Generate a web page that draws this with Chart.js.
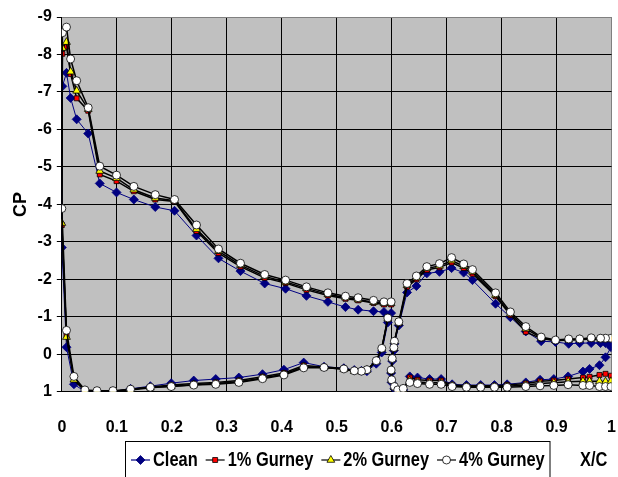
<!DOCTYPE html>
<html>
<head>
<meta charset="utf-8">
<script src="https://cdn.jsdelivr.net/npm/chart.js@4.4.1/dist/chart.umd.min.js"></script>
<style>
  html, body { margin: 0; padding: 0; background: #fff; }
</style>
</head>
<body>
<canvas id="cpChart" width="618" height="477"></canvas>
<script>
// tap positions: main element (lower TE -> LE -> upper TE), flap (upper TE -> LE -> lower TE)
const mainX = [0.593, 0.582, 0.572, 0.555, 0.545, 0.532, 0.513, 0.477, 0.44, 0.404, 0.365, 0.322, 0.28, 0.24, 0.199, 0.161, 0.125, 0.093, 0.064, 0.042, 0.022, 0.0085,
  0,
  0.001, 0.0085, 0.016, 0.027, 0.048, 0.069, 0.0995, 0.131, 0.170, 0.205, 0.245, 0.285, 0.325, 0.369, 0.407, 0.445, 0.484, 0.516, 0.539, 0.567, 0.586, 0.599];
const flapX = [0.999, 0.989, 0.98, 0.963, 0.942, 0.922, 0.898, 0.872, 0.844, 0.816, 0.789, 0.747, 0.731, 0.709, 0.687, 0.664, 0.645, 0.628, 0.613, 0.605, 0.604, 0.601, 0.599,
  0.600, 0.605, 0.611, 0.621,
  0.633, 0.647, 0.669, 0.69, 0.71, 0.736, 0.762, 0.787, 0.81, 0.844, 0.870, 0.895, 0.921, 0.948, 0.96, 0.978, 0.989, 0.999];

const cleanMain = [-0.85, -0.05, 0.25, 0.45, 0.44, 0.42, 0.37, 0.33, 0.22, 0.41, 0.53, 0.62, 0.66, 0.70, 0.77, 0.85, 0.92, 0.99, 1.0, 0.99, 0.80, -0.19,
  -2.85,
  -7.15, -7.51, -6.84, -6.27, -5.89, -4.56, -4.32, -4.13, -3.93, -3.83, -3.17, -2.56, -2.22, -1.89, -1.75, -1.56, -1.40, -1.26, -1.19, -1.15, -1.13, -1.10];
const gurney1Main = [-0.93, -0.14, 0.18, 0.42, 0.45, 0.44, 0.38, 0.34, 0.30, 0.50, 0.60, 0.70, 0.75, 0.78, 0.82, 0.87, 0.94, 0.99, 0.99, 0.97, 0.66, -0.50,
  -3.45,
  -8.02, -8.21, -7.48, -6.83, -6.50, -4.80, -4.62, -4.35, -4.13, -4.08, -3.29, -2.70, -2.34, -2.04, -1.90, -1.72, -1.57, -1.48, -1.44, -1.37, -1.33, -1.33];
const gurney2Main = [-0.95, -0.15, 0.18, 0.42, 0.46, 0.45, 0.40, 0.35, 0.33, 0.53, 0.63, 0.73, 0.78, 0.81, 0.85, 0.89, 0.95, 1.00, 1.00, 0.98, 0.68, -0.46,
  -3.50,
  -8.17, -8.33, -7.54, -7.03, -6.54, -4.89, -4.70, -4.39, -4.17, -4.10, -3.34, -2.75, -2.38, -2.08, -1.93, -1.76, -1.60, -1.51, -1.46, -1.39, -1.36, -1.36];
const gurney4Main = [-0.97, -0.16, 0.17, 0.41, 0.45, 0.44, 0.39, 0.35, 0.36, 0.55, 0.65, 0.75, 0.80, 0.82, 0.86, 0.88, 0.93, 0.97, 0.97, 0.95, 0.59, -0.64,
  -3.89,
  -8.58, -8.73, -7.88, -7.30, -6.58, -5.02, -4.78, -4.48, -4.26, -4.13, -3.45, -2.81, -2.43, -2.13, -1.98, -1.80, -1.64, -1.55, -1.51, -1.44, -1.40, -1.40];

const cleanFlap = [-0.23, -0.30, -0.30, -0.30, -0.30, -0.28, -0.33, -0.35, -0.61, -0.99, -1.35, -1.98, -2.18, -2.30, -2.20, -2.16, -1.82, -1.65, -0.77, -0.28, -0.10, 0.18, 0.50,
  0.75, 0.92, 1.02, 0.95,
  0.59, 0.62, 0.66, 0.66, 0.80, 0.82, 0.82, 0.82, 0.80, 0.75, 0.68, 0.66, 0.59, 0.46, 0.39, 0.29, 0.08, -0.19];
const gurney1Flap = [-0.40, -0.40, -0.40, -0.41, -0.39, -0.38, -0.36, -0.42, -0.60, -1.05, -1.55, -2.15, -2.30, -2.45, -2.32, -2.25, -2.00, -1.80, -0.82, -0.33, -0.15, 0.13, 0.45,
  0.70, 0.88, 0.98, 0.93,
  0.62, 0.68, 0.70, 0.70, 0.82, 0.84, 0.84, 0.84, 0.82, 0.78, 0.72, 0.70, 0.66, 0.62, 0.60, 0.55, 0.52, 0.57];
const gurney2Flap = [-0.41, -0.41, -0.41, -0.42, -0.40, -0.39, -0.37, -0.44, -0.68, -1.08, -1.58, -2.20, -2.35, -2.50, -2.36, -2.29, -2.04, -1.84, -0.84, -0.34, -0.16, 0.12, 0.44,
  0.69, 0.88, 1.05, 0.93,
  0.70, 0.74, 0.76, 0.76, 0.84, 0.86, 0.86, 0.86, 0.85, 0.82, 0.78, 0.76, 0.73, 0.72, 0.72, 0.72, 0.73, 0.72];
const gurney4Flap = [-0.43, -0.43, -0.43, -0.44, -0.41, -0.41, -0.38, -0.46, -0.74, -1.13, -1.64, -2.26, -2.41, -2.58, -2.42, -2.34, -2.09, -1.89, -0.87, -0.35, -0.18, 0.11, 0.42,
  0.68, 0.86, 0.95, 0.91,
  0.75, 0.78, 0.80, 0.80, 0.86, 0.88, 0.88, 0.88, 0.88, 0.86, 0.84, 0.83, 0.81, 0.83, 0.83, 0.86, 0.86, 0.86];

const seriesNames = ['Clean', '1% Gurney', '2% Gurney', '4% Gurney'];
const xTickLabels = ['0', '0.1', '0.2', '0.3', '0.4', '0.5', '0.6', '0.7', '0.8', '0.9', '1'];
const yTickValues = [-9, -8, -7, -6, -5, -4, -3, -2, -1, 0, 1];
const yTickLabels = ['-9', '-8', '-7', '-6', '-5', '-4', '-3', '-2', '-1', '0', '1'];

const SANS = "'Liberation Sans', Arial, sans-serif";

// one line per element, broken by a null point between main and flap
function toPoints(mainCp, flapCp) {
  const pts = mainX.map((x, i) => ({ x: x, y: mainCp[i] }));
  pts.push({ x: 0.6, y: null });
  return pts.concat(flapX.map((x, i) => ({ x: x, y: flapCp[i] })));
}

const styles = [
  { line: '#000080', fill: '#000080', edge: '#000080', shape: 'rectRot', r: 4.5, w: 1 },
  { line: '#000000', fill: '#ff0000', edge: '#000000', shape: 'rect', r: 3.5, w: 1.5 },
  { line: '#000000', fill: '#ffff00', edge: '#000000', shape: 'triangle', r: 4.5, w: 1.5 },
  { line: '#000000', fill: '#ffffff', edge: '#000000', shape: 'circle', r: 4, w: 1.5 }
];
const cpSets = [[cleanMain, cleanFlap], [gurney1Main, gurney1Flap], [gurney2Main, gurney2Flap], [gurney4Main, gurney4Flap]];

const datasets = seriesNames.map((name, i) => ({
  label: name,
  data: toPoints(cpSets[i][0], cpSets[i][1]),
  showLine: true,
  spanGaps: false,
  borderColor: styles[i].line,
  borderWidth: styles[i].w,
  backgroundColor: styles[i].fill,
  pointBackgroundColor: styles[i].fill,
  pointBorderColor: styles[i].edge,
  pointBorderWidth: 0.8,
  pointStyle: styles[i].shape,
  pointRadius: styles[i].r,
  order: 4 - i
}));

// grey plot area
const plotBg = {
  id: 'plotBg',
  beforeDraw(chart) {
    const a = chart.chartArea, ctx = chart.ctx;
    ctx.save();
    ctx.fillStyle = '#fff';
    ctx.fillRect(0, 0, chart.width, chart.height);
    ctx.fillStyle = '#c0c0c0';
    ctx.fillRect(a.left, a.top, a.right - a.left, a.bottom - a.top);
    ctx.restore();
  }
};

function drawMarker(ctx, st, x, y) {
  ctx.fillStyle = st.fill;
  ctx.strokeStyle = st.edge;
  ctx.lineWidth = 0.8;
  if (Chart.helpers && Chart.helpers.drawPoint) {
    Chart.helpers.drawPoint(ctx, { pointStyle: st.shape, radius: st.r, rotation: 0, borderWidth: 0.8 }, x, y);
  } else {
    ctx.fillRect(x - st.r, y - st.r, st.r * 2, st.r * 2);
  }
}

// condensed text, like the squeezed chart labels
function squeezedText(ctx, text, x, y, sx) {
  ctx.save();
  ctx.translate(x, y);
  ctx.scale(sx, 1);
  ctx.fillText(text, 0, 0);
  ctx.restore();
  return ctx.measureText(text).width * sx;
}

// boxed legend with line + marker samples, and the X/C label beside it
const boxLegend = {
  id: 'boxLegend',
  afterDraw(chart) {
    const ctx = chart.ctx;
    const cy = 460;
    const sx = 0.82;
    ctx.save();
    ctx.fillStyle = '#fff';
    ctx.fillRect(125.5, 441.5, 424.5, 40);
    ctx.strokeStyle = '#000';
    ctx.lineWidth = 1;
    ctx.strokeRect(125.5, 441.5, 424.5, 40);
    ctx.font = 'bold 20px ' + SANS;
    ctx.textBaseline = 'middle';
    let cx = 131;
    seriesNames.forEach((name, i) => {
      const st = styles[i];
      ctx.strokeStyle = st.line;
      ctx.lineWidth = 1.2;
      ctx.beginPath();
      ctx.moveTo(cx, cy);
      ctx.lineTo(cx + 19, cy);
      ctx.stroke();
      drawMarker(ctx, st, cx + 9.5, cy);
      ctx.fillStyle = '#000';
      const w = squeezedText(ctx, name, cx + 22, cy, sx);
      cx += 22 + w + 8;
    });
    ctx.fillStyle = '#000';
    squeezedText(ctx, 'X/C', 580, cy, sx);
    ctx.restore();
  }
};

new Chart(document.getElementById('cpChart'), {
  type: 'scatter',
  data: { datasets: datasets },
  options: {
    responsive: false,
    animation: false,
    layout: { padding: { left: 5, right: 6, top: 17, bottom: 38 } },
    plugins: {
      legend: { display: false },
      tooltip: { enabled: false }
    },
    scales: {
      x: {
        type: 'linear',
        min: 0,
        max: 1,
        ticks: {
          stepSize: 0.1,
          padding: 2,
          color: '#000',
          font: { family: SANS, size: 16, weight: 'bold' },
          callback: (v, i) => xTickLabels[i]
        },
        grid: {
          color: c => (c.tick && c.tick.value >= 0.999 ? '#808080' : '#000'),
          lineWidth: 1,
          drawTicks: true,
          tickLength: 24,
          tickColor: 'rgba(0,0,0,0)'
        },
        border: { color: '#000', width: 1 }
      },
      y: {
        type: 'linear',
        reverse: true,
        min: -9,
        max: 1,
        ticks: {
          stepSize: 1,
          padding: 5,
          color: '#000',
          font: { family: SANS, size: 16, weight: 'bold' },
          callback: v => yTickLabels[yTickValues.indexOf(Math.round(v))]
        },
        grid: {
          color: c => (c.tick && c.tick.value <= -8.999 ? '#808080' : '#000'),
          lineWidth: 1,
          tickLength: 5,
          tickColor: '#000'
        },
        border: { color: '#000', width: 1 },
        title: {
          display: true,
          text: 'CP',
          color: '#000',
          font: { family: SANS, size: 18, weight: 'bold' },
          padding: { top: 5, bottom: 1 }
        }
      }
    }
  },
  plugins: [plotBg, boxLegend]
});
</script>
</body>
</html>
